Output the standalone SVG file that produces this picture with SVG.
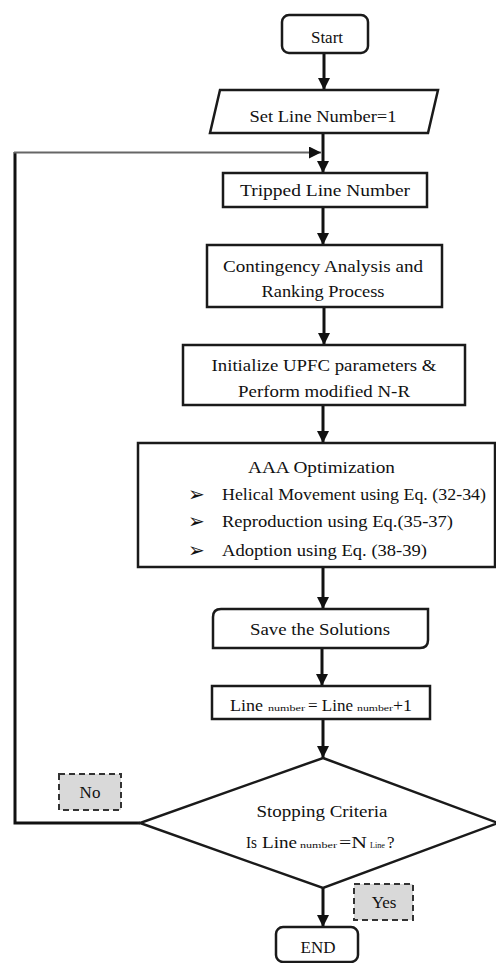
<svg xmlns="http://www.w3.org/2000/svg" width="496" height="963" viewBox="0 0 496 963">
<style>
.box{fill:#fff;stroke:#1a1a1a;stroke-width:2.5}
.t{font-family:"Liberation Serif","DejaVu Serif",serif;font-size:17px;fill:#111}
.c{text-anchor:middle}
.s{font-family:"Liberation Serif","DejaVu Serif",serif;font-size:8px;fill:#111}
.bul{font-family:"DejaVu Sans",sans-serif;font-size:20px;fill:#111}
.lbl{fill:#d9d9d9;stroke:#333;stroke-width:2;stroke-dasharray:6 4}
.con{fill:none;stroke:#111;stroke-width:3}
</style>
<defs>
<marker id="ah" markerUnits="userSpaceOnUse" markerWidth="12" markerHeight="12" refX="12" refY="6" orient="auto">
<path d="M0,0 L12,6 L0,12 z" fill="#111"/>
</marker>
</defs>
<rect width="496" height="963" fill="#fff"/>
<g id="connectors">
<line class="con" x1="324" y1="53" x2="324" y2="90" marker-end="url(#ah)"/>
<line class="con" x1="323" y1="133" x2="323" y2="173" marker-end="url(#ah)"/>
<line class="con" x1="323" y1="207" x2="323" y2="245" marker-end="url(#ah)"/>
<line class="con" x1="324" y1="307" x2="324" y2="345" marker-end="url(#ah)"/>
<line class="con" x1="323" y1="405" x2="323" y2="443" marker-end="url(#ah)"/>
<line class="con" x1="323" y1="567" x2="323" y2="609" marker-end="url(#ah)"/>
<line class="con" x1="322" y1="648" x2="322" y2="686" marker-end="url(#ah)"/>
<line class="con" x1="323" y1="719" x2="323" y2="758" marker-end="url(#ah)"/>
<line class="con" x1="323" y1="888" x2="323" y2="927" marker-end="url(#ah)"/>
<polyline class="con" points="140,823 15,823 15,152"/>
<line x1="14" y1="152.5" x2="321" y2="152.5" stroke="#666" stroke-width="1.8" marker-end="url(#ah)"/>
</g>
<g id="start">
<rect class="box" x="282" y="15" width="86" height="38" rx="7"/>
<text class="t c" x="327" y="43">Start</text>
</g>
<g id="setLine">
<polygon class="box" points="220,90 438,90 428,133 210,133"/>
<text class="t c" x="323" y="122" textLength="147" lengthAdjust="spacingAndGlyphs">Set Line Number=1</text>
</g>
<g id="tripped">
<rect class="box" x="223" y="173" width="204" height="34"/>
<text class="t c" x="325" y="196" textLength="170" lengthAdjust="spacingAndGlyphs">Tripped Line Number</text>
</g>
<g id="contingency">
<rect class="box" x="207" y="245" width="235" height="62"/>
<text class="t c" x="323" y="272" textLength="200" lengthAdjust="spacingAndGlyphs">Contingency Analysis and</text>
<text class="t c" x="323" y="297" textLength="123" lengthAdjust="spacingAndGlyphs">Ranking Process</text>
</g>
<g id="initialize">
<rect class="box" x="183" y="345" width="282" height="60"/>
<text class="t c" x="324" y="371" textLength="225" lengthAdjust="spacingAndGlyphs">Initialize UPFC parameters &amp;</text>
<text class="t c" x="324" y="397" textLength="172" lengthAdjust="spacingAndGlyphs">Perform modified N-R</text>
</g>
<g id="aaa">
<rect class="box" x="138" y="443" width="357" height="124"/>
<text class="t" x="248" y="473" textLength="147" lengthAdjust="spacingAndGlyphs">AAA Optimization</text>
<text class="bul" x="188" y="501">➢</text>
<text class="t" x="222" y="500" textLength="264" lengthAdjust="spacingAndGlyphs">Helical Movement using Eq. (32-34)</text>
<text class="bul" x="188" y="528">➢</text>
<text class="t" x="222" y="527" textLength="231" lengthAdjust="spacingAndGlyphs">Reproduction using Eq.(35-37)</text>
<text class="bul" x="188" y="557">➢</text>
<text class="t" x="222" y="556" textLength="205" lengthAdjust="spacingAndGlyphs">Adoption using Eq. (38-39)</text>
</g>
<g id="save">
<path class="box" d="M221,609 H428 V640 Q428,648 420,648 H213 V617 Q213,609 221,609 Z"/>
<text class="t c" x="320" y="635" textLength="140" lengthAdjust="spacingAndGlyphs">Save the Solutions</text>
</g>
<g id="increment">
<rect class="box" x="212" y="686" width="218" height="33"/>
<text class="t" x="230" y="711" textLength="33" lengthAdjust="spacingAndGlyphs">Line</text>
<text class="s" x="268" y="711" textLength="37" lengthAdjust="spacingAndGlyphs">number</text>
<text class="t" x="308" y="711" textLength="45" lengthAdjust="spacingAndGlyphs">= Line</text>
<text class="s" x="357" y="711" textLength="36" lengthAdjust="spacingAndGlyphs">number</text>
<text class="t" x="393" y="711" textLength="19" lengthAdjust="spacingAndGlyphs">+1</text>
</g>
<g id="decision">
<polygon class="box" points="323,758 498,823 323,888 140,823"/>
<text class="t c" x="322" y="817" textLength="131" lengthAdjust="spacingAndGlyphs">Stopping Criteria</text>
<text class="t" x="246" y="848" textLength="11" lengthAdjust="spacingAndGlyphs">Is</text>
<text class="t" x="262" y="848" textLength="35" lengthAdjust="spacingAndGlyphs">Line</text>
<text class="s" x="300" y="848" textLength="37" lengthAdjust="spacingAndGlyphs">number</text>
<text class="t" x="339" y="848" textLength="28" lengthAdjust="spacingAndGlyphs">=N</text>
<text class="s" x="370" y="848" textLength="15" lengthAdjust="spacingAndGlyphs">Line</text>
<text class="t" x="387" y="848">?</text>
</g>
<g id="noLabel">
<rect class="lbl" x="59" y="774" width="62" height="36"/>
<text class="t c" x="90" y="798">No</text>
</g>
<g id="yesLabel">
<rect class="lbl" x="354" y="884" width="59" height="36"/>
<text class="t c" x="384" y="908">Yes</text>
</g>
<g id="end">
<rect class="box" x="276" y="927" width="82" height="35" rx="7"/>
<text class="t c" x="318" y="953">END</text>
</g>
</svg>
